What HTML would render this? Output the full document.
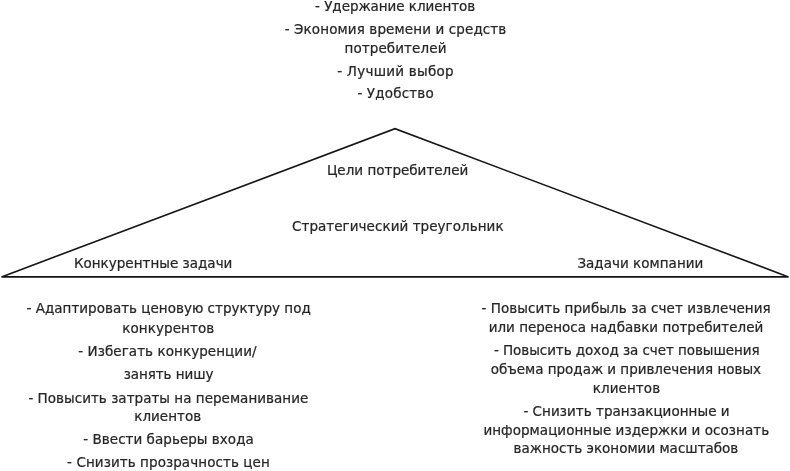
<!DOCTYPE html>
<html lang="ru">
<head>
<meta charset="utf-8">
<title>Стратегический треугольник</title>
<style>
html,body{margin:0;padding:0;background:#fff;}
body{width:790px;height:471px;position:relative;overflow:hidden;font-family:"DejaVu Sans","Liberation Sans",sans-serif;font-size:13.5px;color:#262626;}
.t{position:absolute;-webkit-text-stroke:0.22px #262626;white-space:pre;line-height:20px;text-align:center;margin:0;}
svg{position:absolute;left:0;top:0;}
</style>
</head>
<body>
<svg width="790" height="471" viewBox="0 0 790 471">
<polygon points="1.5,276.9 395,128.7 788.5,276.9" fill="none" stroke="#141414" stroke-width="1.6" stroke-linejoin="miter"/>
</svg>
<div id="txt" style="position:absolute;left:0;top:0;width:790px;height:471px;will-change:transform">
<div class="g goals-list">
  <div class="t" style="left:315.09px;top:-4.42px;letter-spacing:-0.041px">- Удержание клиентов</div>
  <div class="t" style="left:284.70px;top:19.43px;letter-spacing:0.111px">- Экономия времени и средств</div>
  <div class="t" style="left:344.49px;top:37.53px;letter-spacing:0.102px">потребителей</div>
  <div class="t" style="left:337.19px;top:60.53px;letter-spacing:0.237px">- Лучший выбор</div>
  <div class="t" style="left:357.39px;top:83.43px;letter-spacing:0.168px">- Удобство</div>
</div>
<div class="g triangle-labels-center">
  <div class="t" style="left:326.89px;top:160.13px;letter-spacing:0.009px">Цели потребителей</div>
  <div class="t" style="left:291.99px;top:215.83px;letter-spacing:0.053px">Стратегический треугольник</div>
</div>
<div class="g triangle-labels-base">
  <div class="t" style="left:73.89px;top:252.73px;letter-spacing:0.014px">Конкурентные задачи</div>
  <div class="t" style="left:577.39px;top:252.73px;letter-spacing:0.019px">Задачи компании</div>
</div>
<div class="g competitive-list">
  <div class="t" style="left:26.59px;top:298.13px;letter-spacing:0.008px">- Адаптировать ценовую структуру под</div>
  <div class="t" style="left:122.19px;top:317.53px;letter-spacing:0.095px">конкурентов</div>
  <div class="t" style="left:78.19px;top:341.13px;letter-spacing:0.068px">- Избегать конкуренции/</div>
  <div class="t" style="left:123.69px;top:364.03px;letter-spacing:-0.073px">занять нишу</div>
  <div class="t" style="left:28.40px;top:387.63px;letter-spacing:0.025px">- Повысить затраты на переманивание</div>
  <div class="t" style="left:134.19px;top:405.63px;letter-spacing:0.036px">клиентов</div>
  <div class="t" style="left:83.29px;top:428.93px;letter-spacing:0.034px">- Ввести барьеры входа</div>
  <div class="t" style="left:67.09px;top:451.83px;letter-spacing:0.075px">- Снизить прозрачность цен</div>
</div>
<div class="g company-list">
  <div class="t" style="left:481.39px;top:298.23px;letter-spacing:0.065px">- Повысить прибыль за счет извлечения</div>
  <div class="t" style="left:488.69px;top:317.33px;letter-spacing:-0.001px">или переноса надбавки потребителей</div>
  <div class="t" style="left:493.98px;top:340.33px;letter-spacing:-0.061px">- Повысить доход за счет повышения</div>
  <div class="t" style="left:490.78px;top:358.83px;letter-spacing:-0.024px">объема продаж и привлечения новых</div>
  <div class="t" style="left:592.79px;top:378.13px;letter-spacing:0.079px">клиентов</div>
  <div class="t" style="left:523.39px;top:401.03px;letter-spacing:0.037px">- Снизить транзакционные и</div>
  <div class="t" style="left:483.39px;top:419.73px;letter-spacing:0.046px">информационные издержки и осознать</div>
  <div class="t" style="left:513.59px;top:438.33px;letter-spacing:-0.005px">важность экономии масштабов</div>
</div>
</div>
</body>
</html>
